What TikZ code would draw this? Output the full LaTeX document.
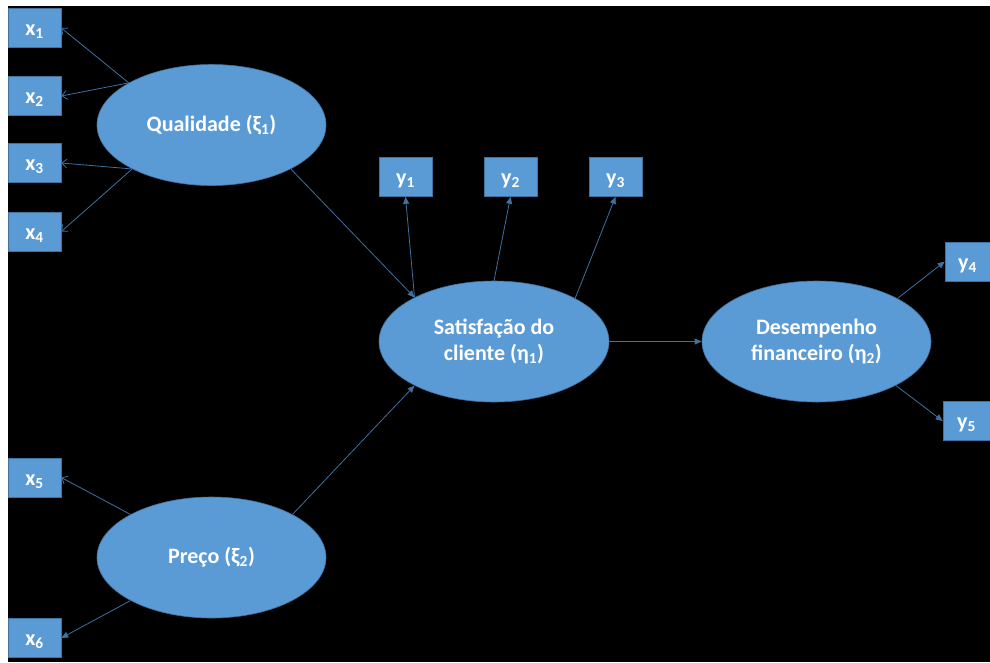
\documentclass[tikz,border=0pt]{standalone}
\usepackage{fontspec}
\setmainfont{Carlito}
\usetikzlibrary{shapes.geometric,arrows.meta}
\definecolor{boxblue}{HTML}{5B9BD5}
\definecolor{edgeblue}{HTML}{41719C}
\definecolor{linkblue}{HTML}{40709F}
\newcommand{\idx}[1]{\textsubscript{#1}}
% indicator label: letter with subscript, set a little low in its box
\newcommand{\indlabel}[2]{\raisebox{-4pt}[\height][\depth]{#1\idx{#2}}}
\tikzset{
  indicator/.style={rectangle, fill=boxblue, draw=edgeblue, line width=0.6pt,
    minimum width=53pt, minimum height=39pt, inner sep=0pt,
    text=white, font=\bfseries\fontsize{22}{24}\selectfont},
  latent/.style={ellipse, fill=boxblue, draw=edgeblue, line width=0.6pt,
    minimum width=229pt, minimum height=121pt, inner sep=0pt, align=center,
    text=white, font=\bfseries\fontsize{22}{26}\selectfont},
  openlink/.style={draw=linkblue, line width=0.8pt, -{Straight Barb[length=5pt,width=9pt]}},
  filledlink/.style={draw=linkblue, line width=0.8pt, -{Triangle[length=7pt,width=6pt]}}
}
\begin{document}
\begin{tikzpicture}[x=1pt,y=-1pt]
  % page and dark canvas
  \fill[white] (0,0) rectangle (990,662);
  \fill[black] (8,6) rectangle (990,662);
  \useasboundingbox (0,0) rectangle (990,662);

  % exogenous indicators
  \node[indicator] (x1) at (34.5,28) {\indlabel{x}{1}};
  \node[indicator] (x2) at (34.5,96) {\indlabel{x}{2}};
  \node[indicator] (x3) at (34.5,163) {\indlabel{x}{3}};
  \node[indicator] (x4) at (34.5,231.5) {\indlabel{x}{4}};
  \node[indicator] (x5) at (34.5,477.5) {\indlabel{x}{5}};
  \node[indicator] (x6) at (34.5,638) {\indlabel{x}{6}};

  % endogenous indicators
  \node[indicator] (y1) at (405.5,177) {\indlabel{y}{1}};
  \node[indicator] (y2) at (510.5,177) {\indlabel{y}{2}};
  \node[indicator] (y3) at (615.5,177) {\indlabel{y}{3}};
  \node[indicator, minimum width=45pt] (y4) at (967.5,261.5) {\indlabel{y}{4}};
  \node[indicator, minimum width=47pt] (y5) at (966.5,421) {\indlabel{y}{5}};

  % latent constructs
  \node[latent] (qual) at (211.5,125) {Qualidade (ξ\idx{1})};
  \node[latent] (preco) at (211.5,557.5) {Preço (ξ\idx{2})};
  \node[latent, minimum width=230pt] (sat) at (494,341.5) {Satisfação do\\cliente (η\idx{1})};
  \node[latent] (des) at (816.5,341.5) {Desempenho\\financeiro (η\idx{2})};

  % reflective links of Qualidade
  \draw[openlink] (qual.153) -- (x1.east);
  \draw[openlink] (qual.153) -- (x2.east);
  \draw[openlink] (qual.209) -- (x3.east);
  \draw[openlink] (qual.209) -- (x4.east);

  % reflective links of Preço
  \draw[openlink] (preco.152) -- (x5.east);
  \draw[filledlink] (preco.208) -- (x6.east);

  % structural paths
  \draw[filledlink] (qual.331) -- (sat.151);
  \draw[filledlink] (preco.28) -- (sat.209);
  \draw[filledlink] (sat.east) -- (des.west);

  % reflective links of the endogenous constructs
  \draw[filledlink] (sat.151) -- (y1.south);
  \draw[filledlink] (sat.90) -- (y2.south);
  \draw[filledlink] (sat.28) -- (y3.south);
  \draw[filledlink] (des.28) -- (y4.west);
  \draw[filledlink] (des.-29) -- (y5.west);
\end{tikzpicture}
\end{document}
